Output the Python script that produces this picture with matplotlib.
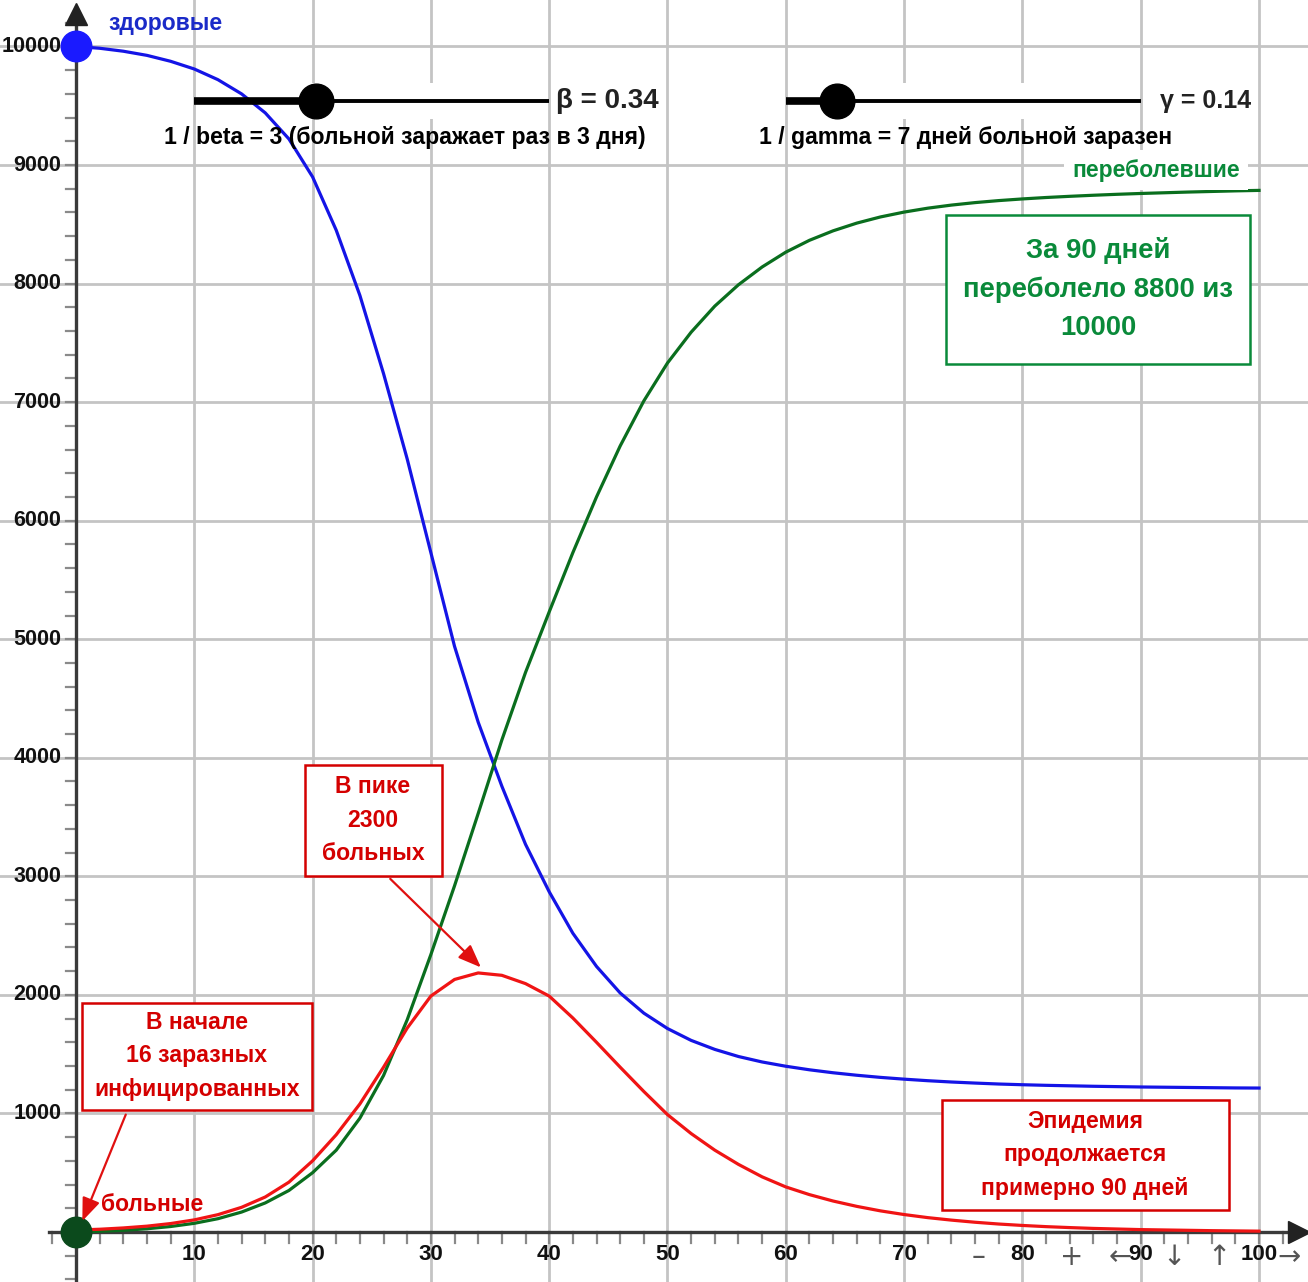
## SIR epidemic curves (GeoGebra-style screenshot) redrawn with matplotlib
import matplotlib.pyplot as plt
from matplotlib.patches import Rectangle

# days of the epidemic (every 2 days)
days = list(range(0, 101, 2))

# healthy (S)
healthy = [10000, 9985, 9960, 9925, 9875, 9810, 9720, 9600, 9440, 9220,
           8900, 8450, 7900, 7240, 6520, 5730, 4940, 4300, 3760, 3270,
           2870, 2520, 2240, 2016, 1846, 1716, 1616, 1540, 1480, 1434,
           1398, 1368, 1343, 1322, 1304, 1289, 1276, 1265, 1256, 1248,
           1242, 1237, 1233, 1229, 1226, 1223, 1221, 1219, 1217, 1215, 1214]

# sick (I)
sick = [16, 23, 34, 49, 71, 102, 146, 208, 295, 420,
        600, 820, 1080, 1390, 1720, 1990, 2130, 2185, 2165, 2095,
        1990, 1805, 1600, 1390, 1185, 990, 830, 690, 570, 465,
        380, 315, 261, 216, 178, 147, 121, 100, 82, 67,
        55, 45, 37, 30, 25, 20, 17, 14, 11, 9, 7]

# recovered (R)
recovered = [0, 6, 14, 27, 46, 73, 112, 168, 245, 350,
             500, 690, 960, 1320, 1790, 2340, 2920, 3530, 4150, 4720,
             5230, 5730, 6200, 6630, 7010, 7330, 7590, 7810, 7990, 8140,
             8265, 8365, 8445, 8510, 8562, 8603, 8636, 8662, 8683, 8700,
             8714, 8726, 8736, 8745, 8753, 8760, 8766, 8772, 8777, 8782, 8786]

x_major = list(range(10, 101, 10))
y_major = list(range(1000, 10001, 1000))

plt.rcParams['font.family'] = ['Liberation Sans', 'DejaVu Sans']

fig = plt.figure(figsize=(13.08, 12.82), dpi=100)
ax = fig.add_axes([0, 0, 1, 1])
ax.set_xlim(-6.42, 104.14)
ax.set_ylim(-422, 10392)
ax.axis('off')

# grid
for gx in x_major:
    ax.axvline(gx, color='#c4c4c4', lw=2, zorder=1)
for gy in y_major:
    ax.axhline(gy, color='#c4c4c4', lw=2, zorder=1)

# axes with arrows
ax.plot([-2.3, 103.2], [0, 0], color='#3a3a3a', lw=2.4, zorder=3)
ax.plot([0, 0], [-422, 10250], color='#3a3a3a', lw=2.4, zorder=3)
ax.plot(103.4, 0, marker='>', ms=16, color='#222222', zorder=4, clip_on=False)
ax.plot(0, 10270, marker='^', ms=16, color='#222222', zorder=4, clip_on=False)

# small ticks
for tx in range(-2, 103, 2):
    ax.plot([tx, tx], [0, -90], color='#8a8a8a', lw=1.6, zorder=2)
for ty in range(-400, 10300, 200):
    ax.plot([-0.85, -0.2], [ty, ty], color='#8a8a8a', lw=1.6, zorder=2)

# tick labels
for gx in x_major:
    ax.text(gx, -190, str(gx), ha='center', va='center', fontsize=16,
            fontweight='bold', color='#111111', zorder=5)
for gy in y_major:
    ax.text(-1.22, gy, str(gy), ha='right', va='center', fontsize=15.5,
            fontweight='bold', color='#111111', zorder=5)

# GeoGebra navigation buttons over the x labels
for nx, sym in [(76.3, '–'), (84.2, '+'), (88.3, '←'), (92.8, '↓'), (96.6, '↑'), (102.5, '→')]:
    ax.text(nx, -215, sym, ha='center', va='center', fontsize=20,
            color='#555555', family=['DejaVu Sans'], zorder=6)

# curves
ax.plot(days, healthy, color='#1414e6', lw=2.3, zorder=7)
ax.plot(days, recovered, color='#0a6e1e', lw=2.3, zorder=7)
ax.plot(days, sick, color='#f01414', lw=2.3, zorder=8)

# start points
ax.plot(0, healthy[0], 'o', ms=22, color='#1a1aff', zorder=9, clip_on=False)
ax.plot(0, 0, 'o', ms=22, color='#0b4a1c', zorder=9)

# curve labels
ax.text(7.6, 10190, 'здоровые', ha='center', va='center', fontsize=16.5,
        fontweight='bold', color='#1a2ac8', zorder=10)
ax.text(6.4, 228, 'больные', ha='center', va='center', fontsize=16.5,
        fontweight='bold', color='#d40000', zorder=10)
ax.text(91.3, 8958, 'переболевшие', ha='center', va='center', fontsize=16.5,
        fontweight='bold', color='#0a8a3a', zorder=10,
        bbox=dict(facecolor='white', edgecolor='none', pad=6))

# sliders
for x0, x1, xp, yv, label, lx, lsize, note, nx in [
        (10, 40, 20.3, 9540, 'β = 0.34', 40.6, 20, '1 / beta = 3 (больной заражает раз в 3 дня)', 27.8),
        (60, 90, 64.3, 9540, 'γ = 0.14', 91.6, 18, '1 / gamma = 7 дней больной заразен', 75.2)]:
    ax.add_patch(Rectangle((x0 + 0.4, yv - 150), x1 - x0 - 0.8, 300, facecolor='white',
                           edgecolor='none', zorder=4))
    ax.plot([x0, xp], [yv, yv], color='black', lw=5.5, solid_capstyle='butt', zorder=10)
    ax.plot([xp, x1], [yv, yv], color='black', lw=2.8, solid_capstyle='butt', zorder=10)
    ax.plot(xp, yv, 'o', ms=25, color='black', zorder=11)
    ax.text(lx, yv, label, ha='left', va='center', fontsize=lsize, fontweight='bold',
            color='#222222', zorder=10)
    ax.text(nx, yv - 305, note, ha='center', va='center', fontsize=16.6,
            fontweight='bold', color='black', zorder=10)

# boxed notes
notes = [
    ((0.5, 1029), 19.45, 903, 10.2, 1485, 'В начале\n16 заразных\nинфицированных', '#d40000', 16.6, 1.58),
    ((19.36, 3003), 11.58, 936, 25.1, 3475, 'В пике\n2300\nбольных', '#d40000', 16.6, 1.58),
    ((73.2, 186), 24.26, 927, 85.3, 650, 'Эпидемия\nпродолжается\nпримерно 90 дней', '#d40000', 16.6, 1.58),
    ((73.5, 7322), 25.7, 1257, 86.4, 7954, 'За 90 дней\nпереболело 8800 из\n10000', '#0a8a3a', 19.8, 1.61),
]
for (bx, by), bw, bh, tx, ty, txt, col, fs, ls in notes:
    ax.add_patch(Rectangle((bx, by), bw, bh, facecolor='white', edgecolor=col,
                           lw=1.8, zorder=12))
    ax.text(tx, ty, txt, ha='center', va='center', fontsize=fs, fontweight='bold',
            color=col, linespacing=ls, zorder=13)

# arrows from the notes
arrow = dict(arrowstyle='-|>,head_length=1.4,head_width=0.55', color='#e01010', lw=1.6)
ax.annotate('', xy=(0.45, 70), xytext=(4.3, 1012), arrowprops=arrow, zorder=12)
ax.annotate('', xy=(34.4, 2215), xytext=(26.4, 2995), arrowprops=arrow, zorder=12)

plt.savefig('out.png', dpi=100)
